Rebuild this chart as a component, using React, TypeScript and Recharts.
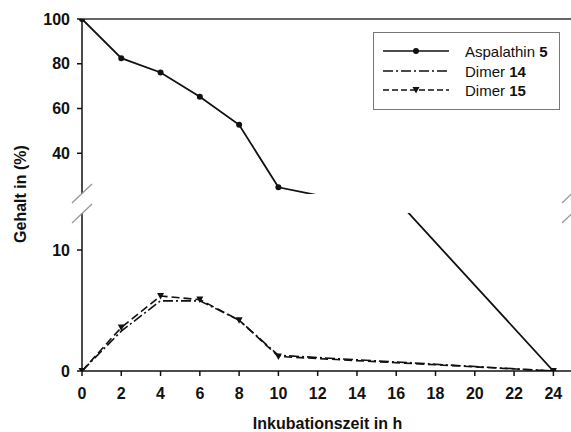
import { LineChart, Line, XAxis, YAxis, ReferenceLine } from 'recharts'

const hours = [0, 2, 4, 6, 8, 10, 24]
const aspalathin5 = [100, 82.5, 76.1, 65.3, 52.7, 24.8, 0]
const dimer14 = [0, 3.3, 5.8, 5.8, 4.2, 1.3, 0]
const dimer15 = [0, 3.6, 6.2, 5.9, 4.2, 1.2, 0]

const xTicks = [0, 2, 4, 6, 8, 10, 12, 14, 16, 18, 20, 22, 24]
const topTicks = [40, 60, 80, 100]
const bottomTicks = [0, 10]

const data = hours.map((h, i) => ({
  h,
  asp: aspalathin5[i],
  d14: dimer14[i],
  d15: dimer15[i],
}))

const font = 'Arial, "Liberation Sans", sans-serif'
const tickStyle = { fontSize: 16, fontWeight: 700, fill: '#111', fontFamily: font }

function Tri(props: any) {
  const { cx, cy } = props
  if (cx == null || cy == null) return null
  return <path d={`M${cx - 3.5},${cy - 3} L${cx + 3.5},${cy - 3} L${cx},${cy + 3.5} Z`} fill="#111" />
}

function LegendRow({ y, dash, marker, name, num }: any) {
  return (
    <g>
      <line x1={10} x2={76} y1={y} y2={y} stroke="#111" strokeWidth={1.6} strokeDasharray={dash} />
      {marker === 'dot' && <circle cx={43} cy={y} r={3} fill="#111" />}
      {marker === 'tri' && <path d={`M39.5,${y - 3} L46.5,${y - 3} L43,${y + 3.5} Z`} fill="#111" />}
      <text x={92} y={y + 5.5} fontSize={15} fontFamily={font} fill="#111">
        {name} <tspan fontWeight={700}>{num}</tspan>
      </text>
    </g>
  )
}

export default function App() {
  return (
    <div style={{ position: 'absolute', left: 0, top: 0, width: 571, height: 432, overflow: 'hidden', background: '#fff' }}>
      {/* upper panel */}
      <div style={{ position: 'absolute', left: 0, top: 0 }}>
        <LineChart width={600} height={200} data={data} margin={{ top: 19, right: 27, bottom: 6, left: 0 }}>
          <XAxis dataKey="h" type="number" domain={[0, 25]} hide />
          <YAxis
            type="number"
            domain={[21.8, 100]}
            ticks={topTicks}
            allowDataOverflow
            width={82}
            tickSize={5}
            tickMargin={7}
            tick={tickStyle}
            axisLine={{ stroke: '#111', strokeWidth: 1.5 }}
            tickLine={{ stroke: '#111', strokeWidth: 1.5 }}
          />
          <ReferenceLine y={100} stroke="#333" strokeWidth={1.5} />
          <Line dataKey="asp" stroke="#111" strokeWidth={1.8} dot={{ r: 3, fill: '#111', stroke: 'none' }} isAnimationActive={false} />
        </LineChart>
      </div>
      {/* lower panel */}
      <div style={{ position: 'absolute', left: 0, top: 0 }}>
        <LineChart width={600} height={432} data={data} margin={{ top: 213, right: 27, bottom: 0, left: 0 }}>
          <XAxis
            dataKey="h"
            type="number"
            domain={[0, 25]}
            ticks={xTicks}
            height={61}
            tickSize={5}
            tickMargin={12}
            tick={tickStyle}
            axisLine={{ stroke: '#111', strokeWidth: 1.5 }}
            tickLine={{ stroke: '#111', strokeWidth: 1.5 }}
            label={{ value: 'Inkubationszeit in h', position: 'insideBottom', offset: 3, style: { fontSize: 16, fontWeight: 700, fill: '#111', fontFamily: font } }}
          />
          <YAxis
            type="number"
            domain={[0, 13.06]}
            ticks={bottomTicks}
            allowDataOverflow
            width={82}
            tickSize={5}
            tickMargin={7}
            tick={tickStyle}
            axisLine={{ stroke: '#111', strokeWidth: 1.5 }}
            tickLine={{ stroke: '#111', strokeWidth: 1.5 }}
          />
          <Line dataKey="asp" stroke="#111" strokeWidth={1.8} dot={{ r: 3, fill: '#111', stroke: 'none' }} isAnimationActive={false} />
          <Line dataKey="d14" stroke="#111" strokeWidth={1.6} strokeDasharray="10 3 2 3" dot={false} isAnimationActive={false} />
          <Line dataKey="d15" stroke="#111" strokeWidth={1.6} strokeDasharray="8 4" dot={<Tri />} isAnimationActive={false} />
        </LineChart>
      </div>
      {/* y label, axis breaks, legend */}
      <svg width={571} height={432} style={{ position: 'absolute', left: 0, top: 0, pointerEvents: 'none' }}>
        <text transform="translate(26,194) rotate(-90)" textAnchor="middle" fontSize={16} fontWeight={700} fontFamily={font} fill="#111">
          Gehalt in (%)
        </text>
        <g stroke="#999" strokeWidth={1.3}>
          <line x1={72} y1={203} x2={92} y2={184} />
          <line x1={72} y1={223} x2={92} y2={204} />
          <line x1={562} y1={203} x2={582} y2={184} />
          <line x1={562} y1={223} x2={582} y2={204} />
        </g>
        <g transform="translate(373,32)">
          <rect x={0.5} y={0.5} width={186} height={77} fill="#fff" stroke="#777" strokeWidth={1} />
          <LegendRow y={19} dash={undefined} marker="dot" name="Aspalathin" num="5" />
          <LegendRow y={39} dash="10 3 2 3" marker={null} name="Dimer" num="14" />
          <LegendRow y={58} dash="6 3" marker="tri" name="Dimer" num="15" />
        </g>
      </svg>
    </div>
  )
}
